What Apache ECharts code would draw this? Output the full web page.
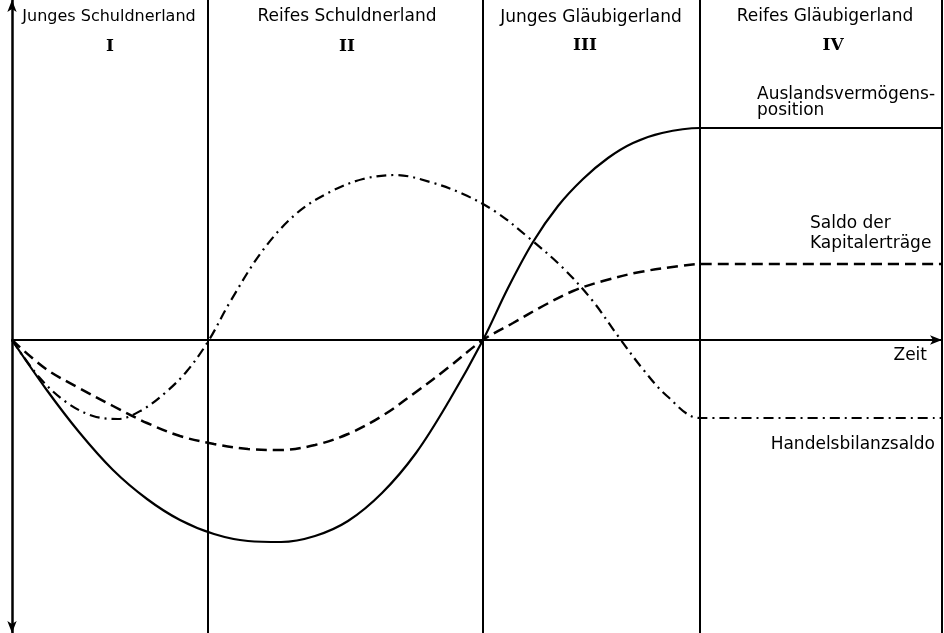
<!DOCTYPE html>
<html>
<head>
<meta charset="utf-8">
<title>Phasen der Zahlungsbilanz</title>
<script src="https://cdn.jsdelivr.net/npm/echarts@6/dist/echarts.min.js"></script>
<style>
  html, body { margin: 0; padding: 0; background: #fff; }
  #chart { width: 944px; height: 633px; }
</style>
</head>
<body>
<div id="chart"></div>
<script>
// x = Zeit (0 = Ursprung), y = Saldo (0 = Zeitachse), gelesen aus der Vorlage
var phaseBounds = [196, 471, 688, 930];

var auslandsvermoegen = [
  [0, 0], [34, -49], [67, -92], [101, -130], [135, -159], [168, -180],
  [202, -194], [236, -201], [269, -202], [303, -196], [336, -181],
  [370, -153], [404, -113], [437, -61], [471, 0], [496, 52], [521, 98],
  [546, 134], [571, 161], [596, 182], [621, 197], [650, 207], [688, 212],
  [930, 212]
];

var kapitalertraege = [
  [0, 0], [34, -29], [67, -48], [101, -66], [135, -83], [168, -96],
  [202, -104], [236, -109], [269, -110], [303, -105], [336, -94],
  [370, -76], [404, -52], [437, -27], [471, 0], [501, 17], [531, 34],
  [561, 49], [591, 59], [628, 68], [668, 74], [688, 76], [930, 76]
];

var handelsbilanz = [
  [0, 0], [27, -37], [54, -62], [81, -76], [106, -79], [130, -70],
  [153, -53], [175, -31], [197, 0], [218, 38], [251, 90], [285, 127],
  [318, 148], [351, 161], [384, 165], [418, 158], [451, 146], [484, 128],
  [517, 102], [550, 73], [580, 40], [606, 4], [630, -28], [655, -56],
  [688, -78], [930, -78]
];

var phaseNames = ['Junges Schuldnerland', 'Reifes Schuldnerland', 'Junges Gläubigerland', 'Reifes Gläubigerland'];
var phaseNumbers = ['I', 'II', 'III', 'IV'];

var font = '"DejaVu Sans", sans-serif';
var black = '#000';

function txt(x, y, s, align, f) {
  return {
    type: 'text', x: x, y: y, z: 10,
    style: { text: s, fill: black, font: f || ('17px ' + font), textAlign: align || 'center', textVerticalAlign: 'middle' }
  };
}

var roman = 'bold 17px "DejaVu Serif", serif';

var titles = [
  txt(109, 17, phaseNames[0], 'center', '16px ' + font), txt(347, 17, phaseNames[1]),
  txt(591, 18, phaseNames[2]), txt(825, 17, phaseNames[3]),
  txt(110, 47, phaseNumbers[0], 'center', roman), txt(347, 47, phaseNumbers[1], 'center', roman),
  txt(585, 46, phaseNumbers[2], 'center', roman), txt(833, 46, phaseNumbers[3], 'center', roman),
  txt(757, 95, 'Auslandsvermögens-', 'left'), txt(757, 111, 'position', 'left'),
  txt(810, 224, 'Saldo der', 'left'), txt(810, 244, 'Kapitalerträge', 'left'),
  txt(927, 356, 'Zeit', 'right'),
  txt(935, 445, 'Handelsbilanzsaldo', 'right')
];

var option = {
  animation: false,
  backgroundColor: '#fff',
  grid: { left: 12, right: 2, top: 0, bottom: 0 },
  xAxis: {
    type: 'value', min: 0, max: 930,
    axisLine: { lineStyle: { color: black, width: 2 }, symbol: ['none', 'arrow'], symbolSize: [7, 12] },
    axisTick: { show: false }, axisLabel: { show: false }, splitLine: { show: false }
  },
  yAxis: {
    type: 'value', min: -293, max: 340,
    axisLine: { lineStyle: { color: black, width: 2.5 }, symbol: ['arrow', 'arrow'], symbolSize: [7, 12] },
    axisTick: { show: false }, axisLabel: { show: false }, splitLine: { show: false }
  },
  graphic: titles,
  series: [
    {
      name: 'Auslandsvermögensposition', type: 'line', data: auslandsvermoegen,
      smooth: 0.35, showSymbol: false,
      lineStyle: { color: black, width: 2.2 },
      markLine: {
        silent: true, symbol: 'none', label: { show: false },
        lineStyle: { color: black, width: 2, type: 'solid' },
        data: phaseBounds.map(function (v) { return { xAxis: v }; })
      }
    },
    {
      name: 'Saldo der Kapitalerträge', type: 'line', data: kapitalertraege,
      smooth: 0.35, showSymbol: false,
      lineStyle: { color: black, width: 2.5, type: [11, 6] }
    },
    {
      name: 'Handelsbilanzsaldo', type: 'line', data: handelsbilanz,
      smooth: 0.35, showSymbol: false,
      lineStyle: { color: black, width: 2.2, type: [10, 5, 2, 5] }
    }
  ]
};

var myChart = echarts.init(document.getElementById('chart'));
myChart.setOption(option);
</script>
</body>
</html>
